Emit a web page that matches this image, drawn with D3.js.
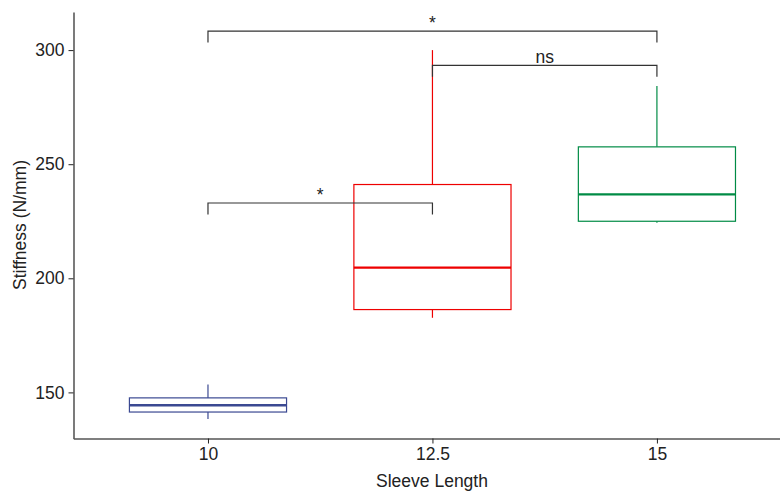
<!DOCTYPE html>
<html>
<head>
<meta charset="utf-8">
<script src="https://cdn.jsdelivr.net/npm/d3@7"></script>
<style>
  body { margin: 0; background: #fff; }
  svg { display: block; font-family: Arial, "Liberation Sans", sans-serif; }
</style>
</head>
<body>
<div id="chart"></div>
<script>
// values
const categories = ["10", "12.5", "15"];
const whiskerLow = [138.3, 182.7, 224.3];
const q1 = [141.4, 186.3, 225.0];
const medians = [144.4, 204.7, 236.8];
const q3 = [147.6, 241.1, 257.6];
const whiskerHigh = [153.5, 300.0, 284.3];
const colors = ["#3B4992", "#EE0000", "#008B45"];

const yTicks = [150, 200, 250, 300];

// significance brackets
const bracketFrom = ["10", "12.5", "10"];
const bracketTo = ["15", "15", "12.5"];
const bracketY = [308.3, 293.3, 233.0];
const bracketLabel = ["*", "ns", "*"];
const tipLength = 5;

const width = 780, height = 491;

const svg = d3.select("#chart").append("svg")
    .attr("width", width)
    .attr("height", height);

const x = d3.scalePoint()
    .domain(categories)
    .range([73.3, 791.6])
    .padding(0.6);

const y = d3.scaleLinear()
    .domain([129.8, 316.7])
    .range([438.5, 12]);

const boxW = x.step() * 0.7;

// axes
const yAxis = svg.append("g")
    .attr("transform", "translate(73.5,0)")
    .call(d3.axisLeft(y).tickValues(yTicks).tickSize(5).tickSizeOuter(0).tickPadding(4));
yAxis.select(".domain").attr("stroke", "#222").attr("stroke-width", 1.2);
yAxis.selectAll(".tick line").attr("stroke", "#222");
yAxis.selectAll(".tick text")
    .attr("fill", "#222")
    .style("font-size", "17.5px")
    .style("font-family", "Arial, 'Liberation Sans', sans-serif");

const xAxis = svg.append("g")
    .attr("transform", "translate(0,438.5)")
    .call(d3.axisBottom(x).tickSize(5).tickSizeOuter(0).tickPadding(4));
xAxis.select(".domain").attr("stroke", "#555").attr("stroke-width", 1.4);
xAxis.selectAll(".tick line").attr("stroke", "#222");
xAxis.selectAll(".tick text")
    .attr("fill", "#222")
    .style("font-size", "17.5px")
    .style("font-family", "Arial, 'Liberation Sans', sans-serif");

// axis titles
svg.append("text")
    .attr("x", 432)
    .attr("y", 487)
    .attr("text-anchor", "middle")
    .attr("fill", "#222")
    .style("font-size", "17.5px")
    .text("Sleeve Length");

svg.append("text")
    .attr("transform", `translate(26,${(12 + 438) / 2}) rotate(-90)`)
    .attr("text-anchor", "middle")
    .attr("fill", "#222")
    .style("font-size", "17.5px")
    .text("Stiffness (N/mm)");

// boxes
const boxes = svg.append("g").selectAll("g")
    .data(categories)
    .join("g");

boxes.append("line")
    .attr("x1", d => x(d)).attr("x2", d => x(d))
    .attr("y1", (d, i) => y(whiskerHigh[i]))
    .attr("y2", (d, i) => y(q3[i]))
    .attr("stroke", (d, i) => colors[i])
    .attr("stroke-width", 1.2);

boxes.append("line")
    .attr("x1", d => x(d)).attr("x2", d => x(d))
    .attr("y1", (d, i) => y(q1[i]))
    .attr("y2", (d, i) => y(whiskerLow[i]))
    .attr("stroke", (d, i) => colors[i])
    .attr("stroke-width", 1.2);

boxes.append("rect")
    .attr("x", d => x(d) - boxW / 2)
    .attr("width", boxW)
    .attr("y", (d, i) => y(q3[i]))
    .attr("height", (d, i) => y(q1[i]) - y(q3[i]))
    .attr("fill", "#fff")
    .attr("stroke", (d, i) => colors[i])
    .attr("stroke-width", 1.2);

boxes.append("line")
    .attr("x1", d => x(d) - boxW / 2)
    .attr("x2", d => x(d) + boxW / 2)
    .attr("y1", (d, i) => y(medians[i]))
    .attr("y2", (d, i) => y(medians[i]))
    .attr("stroke", (d, i) => colors[i])
    .attr("stroke-width", 2.4);

// brackets
const brackets = svg.append("g").selectAll("g")
    .data(bracketY)
    .join("g");

brackets.append("path")
    .attr("d", (d, i) => {
        const x1 = x(bracketFrom[i]), x2 = x(bracketTo[i]);
        return `M${x1},${y(d - tipLength)}V${y(d)}H${x2}V${y(d - tipLength)}`;
    })
    .attr("fill", "none")
    .attr("stroke", "#333")
    .attr("stroke-width", 1.2);

brackets.append("text")
    .attr("x", (d, i) => (x(bracketFrom[i]) + x(bracketTo[i])) / 2)
    .attr("y", d => y(d) - 2.5)
    .attr("text-anchor", "middle")
    .attr("fill", "#222")
    .style("font-size", "17.5px")
    .text((d, i) => bracketLabel[i]);
</script>
</body>
</html>
